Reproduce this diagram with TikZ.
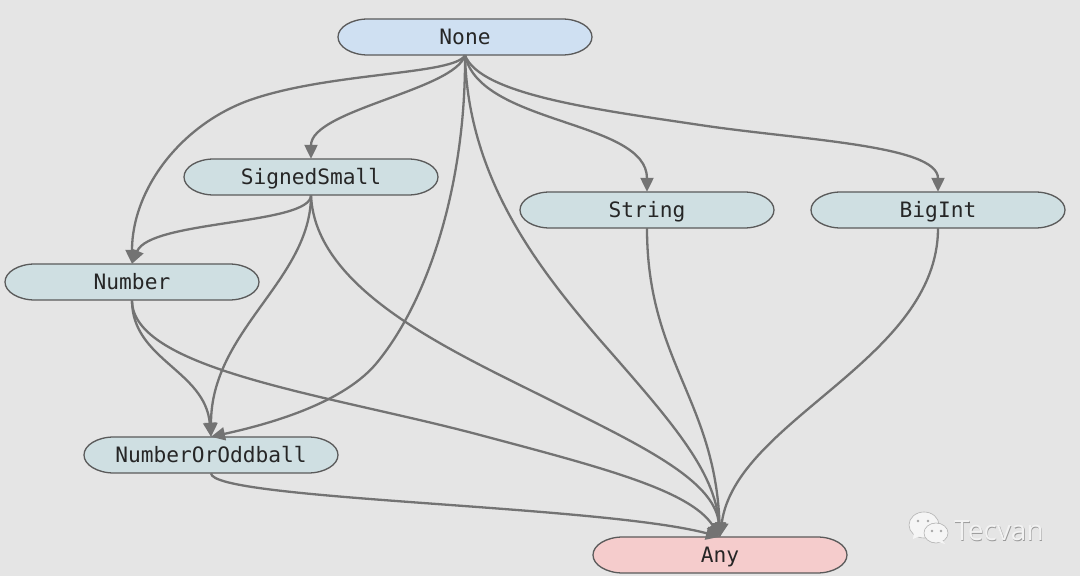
\documentclass[tikz,border=0pt]{standalone}
\usepackage{fontspec}
\setmonofont{DejaVu Sans Mono}
\setsansfont{Open Sans}
\usepackage{xcolor}
\usetikzlibrary{arrows.meta}
\definecolor{ThemeBack}{HTML}{E5E5E5}
\definecolor{ThemeEdge}{HTML}{737373}
\definecolor{ThemeBorder}{HTML}{5A5A5A}
\definecolor{NoneFill}{HTML}{CFE0F2}
\definecolor{TypeFill}{HTML}{CFDFE2}
\definecolor{AnyFill}{HTML}{F5CCCC}
\tikzset{>={Triangle[length=14pt,width=13pt]},
 typenode/.style={minimum width=254pt,minimum height=36pt,inner sep=0pt,
 text height=17pt,text depth=1pt,
 font=\ttfamily\fontsize{21.2}{22}\selectfont,text=black!85},
 typeedge/.style={draw=ThemeEdge,line width=2.3pt,->},
 markbubble/.style={draw=black!30,line width=.6pt,fill=white!96!black},
 markeye/.style={fill=black!35}}

\begin{document}
\begin{tikzpicture}[x=1pt,y=1pt]
\useasboundingbox (0,0) rectangle (1080,576);
\fill[ThemeBack] (0,0) rectangle (1080,576);
% the lattice of types, y counted from the bottom
\foreach \nam/\x/\y/\col/\lab in {none/465/539/NoneFill/None,
 small/311/399/TypeFill/SignedSmall,string/647/366/TypeFill/String,
 bigint/938/366/TypeFill/BigInt,number/132/294/TypeFill/Number,
 oddball/211/121/TypeFill/NumberOrOddball,any/720/21/AnyFill/Any}
 {\draw[ThemeBorder,line width=1.3pt,fill=\col] (\x-97,\y+18)--(\x+97,\y+18)
   arc[start angle=90,end angle=-90,x radius=30,y radius=18]--(\x-97,\y-18)
   arc[start angle=270,end angle=90,x radius=30,y radius=18]--cycle;
  \node[typenode] (\nam) at (\x,\y) {\lab};}
% edges out of None
\draw[typeedge] (none.south) .. controls (455,501) and (330,504) .. (250,476)
 .. controls (180,451) and (132,386) .. (number.north);
\draw[typeedge] (none.south) .. controls (455,486) and (311,466) .. (small.north);
\draw[typeedge] (none.south) .. controls (480,451) and (647,456) .. (string.north);
\draw[typeedge] (none.south) .. controls (480,481) and (600,466) .. (700,451)
 .. controls (800,436) and (938,431) .. (bigint.north);
\draw[typeedge] (none.south) .. controls (466,396) and (430,276) .. (375,211)
 .. controls (340,171) and (265,151) .. (oddball.north);
\draw[typeedge] (none.south) .. controls (468,396) and (540,306) .. (600,236)
 .. controls (670,156) and (715,106) .. (any.north);
% edges out of SignedSmall
\draw[typeedge] (small.south) .. controls (311,351) and (150,356) .. (number.north);
\draw[typeedge] (small.south) .. controls (311,296) and (211,246) .. (oddball.north);
\draw[typeedge] (small.south) .. controls (315,286) and (450,226) .. (550,176)
 .. controls (640,131) and (715,96) .. (any.north);
% edges out of Number and NumberOrOddball
\draw[typeedge] (number.south) .. controls (132,216) and (205,206) .. (oddball.north);
\draw[typeedge] (number.south) .. controls (132,206) and (330,181) .. (480,141)
 .. controls (600,109) and (690,86) .. (any.north);
\draw[typeedge] (oddball.south) .. controls (211,76) and (600,71) .. (any.north);
% edges out of String and BigInt
\draw[typeedge] (string.south) .. controls (647,216) and (715,176) .. (any.north);
\draw[typeedge] (bigint.south) .. controls (938,216) and (735,156) .. (any.north);
% corner mark
\draw[markbubble] (924,51) ellipse (15pt and 13pt);
\fill[white!96!black] (914,44)--(913,37)--(922,41)--cycle;
\draw[markbubble] (936,43) ellipse (12pt and 10pt);
\fill[white!96!black] (941,37)--(945,32)--(935,35)--cycle;
\foreach \ex/\ey in {918/55,928/55,932/45,941/45}
 \fill[markeye] (\ex,\ey) circle (1.3pt);
\node[font=\sffamily\fontsize{28}{30}\selectfont,text=black!40] at (999.6,44.4) {Tecvan};
\node[font=\sffamily\fontsize{28}{30}\selectfont,text=white!95!black] (mark) at (999,45) {Tecvan};
\end{tikzpicture}
\end{document}
